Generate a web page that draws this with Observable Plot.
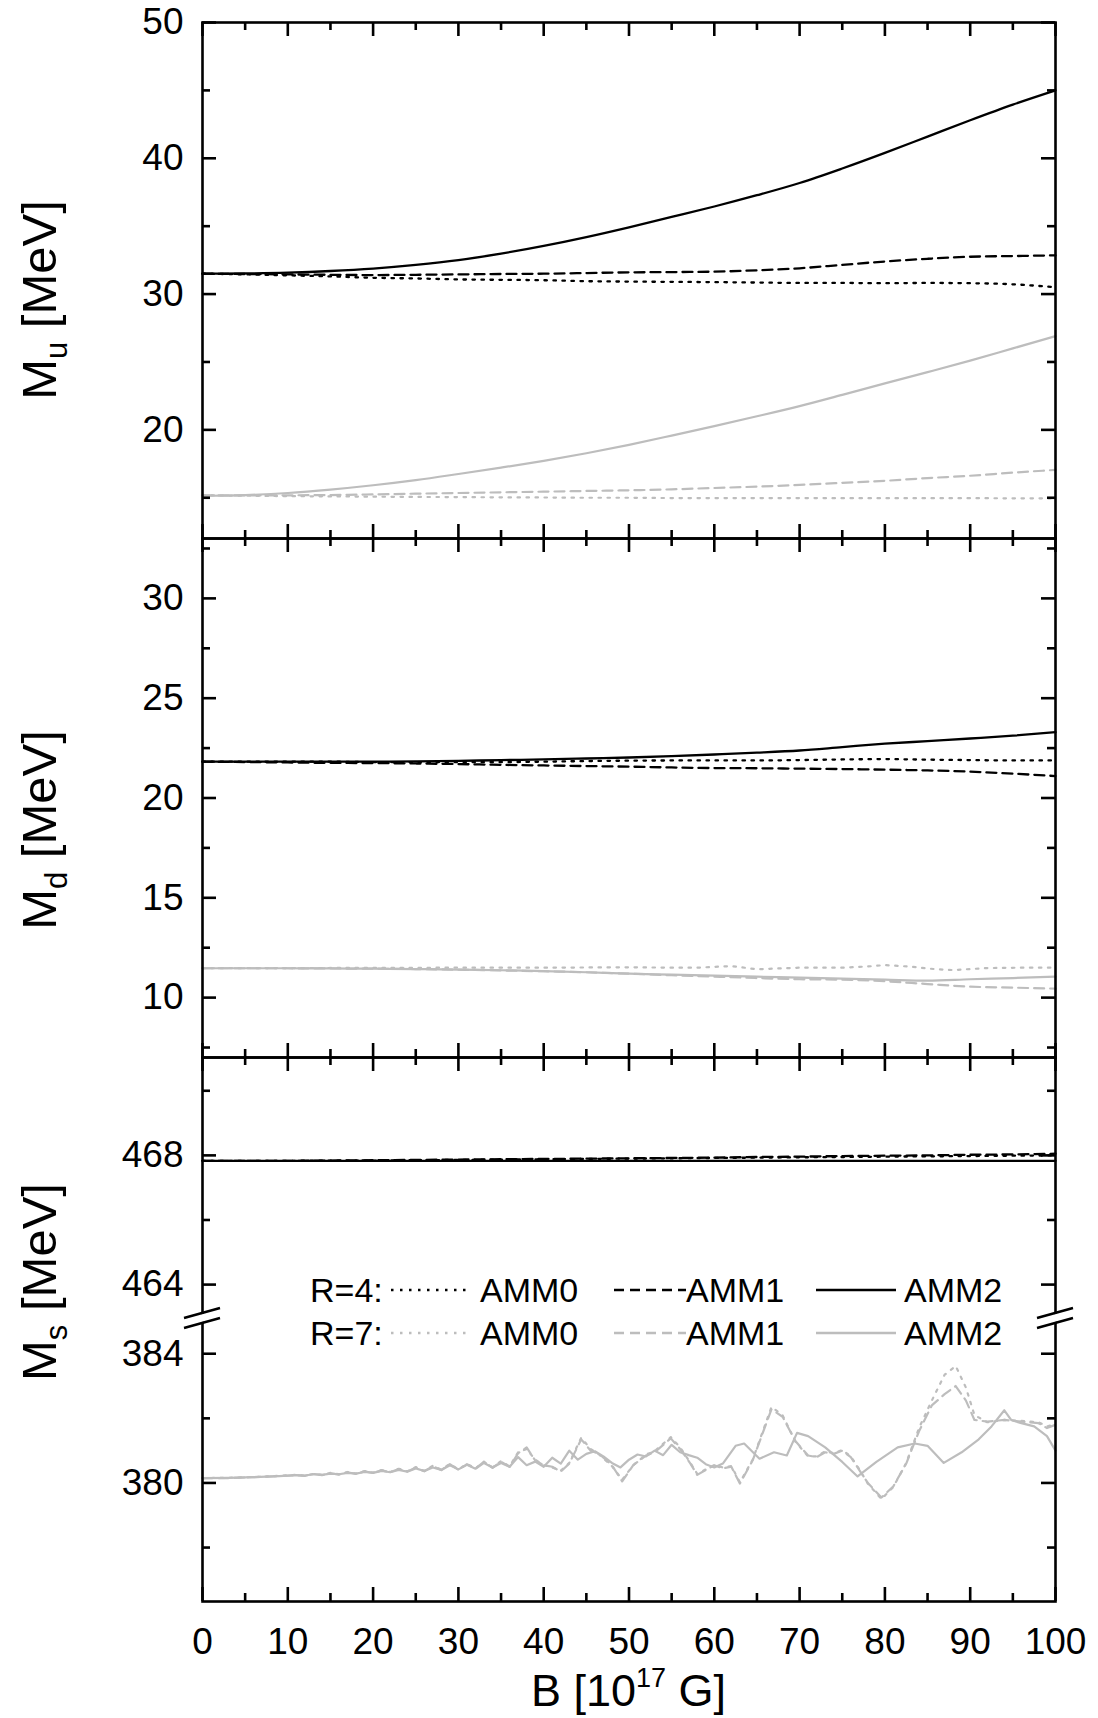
<!DOCTYPE html>
<html><head><meta charset="utf-8">
<script src="https://cdn.jsdelivr.net/npm/d3@7"></script>
<script src="https://cdn.jsdelivr.net/npm/@observablehq/plot@0.6"></script>
<style>
body{margin:0;background:#fff;}
#chart{position:relative;width:1098px;height:1718px;overflow:hidden;}
#chart svg{position:absolute;left:0;}
</style></head><body><div id="chart"></div>
<script>
// ---------- DATA ----------
const B5 = [0,5,10,15,20,25,30,35,40,45,50,55,60,65,70,75,80,85,90,95,100];

// M_u panel
const muR4AMM0 = [31.5,31.45,31.38,31.3,31.2,31.15,31.08,31.05,31.02,30.95,30.92,30.9,30.88,30.85,30.82,30.82,30.8,30.82,30.8,30.72,30.5];
const muR4AMM1 = [31.5,31.48,31.45,31.42,31.4,31.42,31.45,31.48,31.5,31.55,31.6,31.62,31.65,31.75,31.9,32.15,32.4,32.6,32.75,32.8,32.85];
const muR4AMM2 = [31.5,31.52,31.58,31.7,31.88,32.15,32.5,32.98,33.55,34.2,34.92,35.68,36.45,37.28,38.18,39.25,40.4,41.6,42.8,43.95,45.0];
const muR7AMM0 = [15.18,15.15,15.12,15.1,15.08,15.06,15.05,15.03,15.02,15.0,15.0,14.98,14.98,14.98,14.98,14.97,14.97,14.97,14.97,14.96,14.96];
const muR7AMM1 = [15.18,15.17,15.18,15.2,15.25,15.3,15.35,15.4,15.45,15.5,15.55,15.62,15.72,15.82,15.95,16.1,16.25,16.45,16.62,16.85,17.05];
const muR7AMM2 = [15.15,15.2,15.35,15.6,15.92,16.3,16.75,17.22,17.72,18.28,18.9,19.58,20.28,21.0,21.75,22.58,23.42,24.25,25.1,26.0,26.9];

// M_d panel
const mdR4AMM0 = [21.82,21.82,21.82,21.82,21.8,21.8,21.8,21.8,21.82,21.85,21.87,21.88,21.88,21.88,21.9,21.93,21.95,21.92,21.9,21.88,21.88];
const mdR4AMM1 = [21.82,21.8,21.78,21.76,21.75,21.73,21.7,21.66,21.63,21.6,21.57,21.53,21.5,21.49,21.47,21.45,21.42,21.38,21.32,21.22,21.1];
const mdR4AMM2 = [21.82,21.82,21.82,21.82,21.82,21.83,21.86,21.9,21.93,21.98,22.03,22.1,22.18,22.27,22.38,22.55,22.72,22.85,22.98,23.12,23.3];
const Bd7AMM0 = [0,10,20,30,40,50,55,58,62,65,70,75,78,80,83,86,88,92,96,100];
const mdR7AMM0 = [11.47,11.48,11.49,11.5,11.5,11.52,11.5,11.5,11.58,11.42,11.5,11.5,11.56,11.63,11.55,11.42,11.38,11.48,11.5,11.5];
const mdR7AMM1 = [11.47,11.47,11.47,11.46,11.45,11.43,11.4,11.36,11.32,11.27,11.2,11.12,11.05,10.98,10.92,10.9,10.82,10.68,10.55,10.5,10.45];
const mdR7AMM2 = [11.47,11.47,11.47,11.46,11.45,11.43,11.4,11.37,11.33,11.27,11.2,11.15,11.1,11.05,11.0,10.95,10.9,10.85,10.92,10.98,11.05];

// M_s panel, R=4
const msR4AMM0 = [467.83,467.83,467.83,467.84,467.84,467.85,467.86,467.87,467.88,467.89,467.9,467.91,467.92,467.93,467.94,467.95,467.96,467.97,467.98,467.99,468.0];
const msR4AMM1 = [467.83,467.83,467.83,467.84,467.85,467.86,467.87,467.88,467.89,467.9,467.91,467.92,467.93,467.95,467.96,467.98,467.99,468.0,468.02,468.03,468.05];
const msR4AMM2 = [467.83,467.83,467.83,467.83,467.83,467.83,467.83,467.83,467.83,467.83,467.83,467.83,467.83,467.83,467.83,467.83,467.83,467.83,467.83,467.83,467.83];

// M_s panel, R=7
const Bs7AMM2 = [0,3,6,9,11,12,13,14,15,16,17,18,19,20,21,22,23,24,25,26,27,28,29,30,31,32,33,34,35,36,37,38,39,40,41,42,43,44,45,46,47,48,49,50,51,52,53,54,55,56,57,58,59,60,61,62.5,63.5,65.3,67,68.5,69.7,71,73,75,76.8,79,81.5,83.5,85,86.9,89,91,92.5,94,94.8,96,97.5,99,100];
const msR7AMM2 = [380.15,380.16,380.18,380.21,
  380.24,380.23,380.27,380.25,380.29,380.27,380.31,380.29,380.34,380.31,
  380.37,380.33,380.40,380.35,380.45,380.37,380.48,380.40,380.55,380.42,
  380.56,380.44,380.62,380.48,380.62,380.50,380.80,380.55,380.66,380.50,
  380.78,380.60,381.00,380.72,380.90,380.98,380.82,380.62,380.48,380.72,
  380.88,380.82,381.00,380.86,381.18,380.95,380.86,380.78,380.58,380.48,
  380.60,
  381.15,381.22,380.75,380.95,380.85,381.55,381.45,381.10,380.65,380.20,
  380.65,381.10,381.22,381.15,380.62,380.95,381.35,381.75,382.25,381.95,
  381.85,381.75,381.45,381.00];
const Bs7AMM01 = [0,3,6,9,11,12,13,14,15,16,17,18,19,20,21,22,23,24,25,26,27,28,29,30,31,32,33,34,35,36,37,
  38,39,40,41,42,43,44.4,45.5,46.5,48,49.2,50.5,52,53,54.9,56,57.2,58,59,60,61,62,63,64.5,66.7,68,69.5,71,72,73,
  74,75,76,77,78,79.6,81,82.5,84,85.5,87,88.3,89.5,90.5,92,94,96,98,99,100];
const msR7AMM1 = [380.15,380.15,380.18,380.21,
  380.24,380.22,380.28,380.24,380.30,380.26,380.33,380.28,380.36,380.31,
  380.39,380.33,380.43,380.35,380.48,380.36,380.52,380.40,380.58,380.41,
  380.58,380.44,380.66,380.47,380.66,380.50,380.92,
  381.10,380.70,380.55,380.50,380.35,380.60,381.35,381.00,380.90,380.55,380.05,380.55,
  380.85,380.95,381.38,381.05,380.60,380.25,380.40,380.55,380.45,380.50,379.98,380.70,
  382.28,382.05,381.30,380.85,380.80,380.95,380.90,381.00,380.80,380.40,380.00,379.55,
  379.90,380.60,381.60,382.40,382.75,383.00,382.55,381.95,381.90,381.95,381.90,381.85,381.70,381.80];
const msR7AMM0 = [380.15,380.16,380.18,380.22,
  380.25,380.22,380.28,380.25,380.31,380.27,380.34,380.29,380.37,380.32,
  380.40,380.34,380.44,380.36,380.49,380.37,380.53,380.41,380.59,380.42,
  380.59,380.45,380.65,380.48,380.68,380.51,380.95,
  381.05,380.72,380.55,380.48,380.38,380.62,381.40,381.05,380.88,380.52,380.10,380.55,
  380.88,380.98,381.42,381.10,380.62,380.28,380.42,380.55,380.48,380.52,380.02,380.72,
  382.35,382.10,381.28,380.82,380.82,380.98,380.92,381.02,380.82,380.42,379.98,379.50,
  379.88,380.62,381.70,382.55,383.35,383.62,382.95,382.10,381.88,381.95,381.92,381.88,381.75,381.82];

// Axis ticks and labels
const xMajor = [0,10,20,30,40,50,60,70,80,90,100];
const xMinor = [5,15,25,35,45,55,65,75,85,95];
const uMajor = [20,30,40,50], uMinor = [15,25,35,45];
const dMajor = [10,15,20,25,30], dMinor = [7.5,12.5,17.5,22.5,27.5,32.5];
const sMajor = [380,384,464,468], sMinor = [378,382,466,470];
const uDomain = [12, 50];
const dDomain = [7, 33];
const sLower = [376.33, 385.09], sUpper = [462.95, 471.03];
const seriesNames = ["AMM0","AMM1","AMM2"];
const radiusLabels = ["R=4:","R=7:"];

// ---------- STYLE ----------
const W = 1098, ML = 202, MR = 43;
const BLACK = "#000", GRAY = "#bdbdbd";
const DOT = "2.5,6.5", DASH = "10,6";
const FW = 2.6, MAJ = 14, MIN = 8;
const FONT = "'Liberation Sans', Arial, Helvetica, sans-serif";
const chart = document.getElementById("chart");

function yLabel(sub, cy) {
  return () => {
    const g = d3.create("svg:g");
    const t = g.append("text")
      .attr("transform", `translate(56,${cy}) rotate(-90)`)
      .attr("text-anchor", "middle").attr("font-size", 49).attr("fill", "black")
      .attr("font-family", FONT);
    t.append("tspan").text("M");
    t.append("tspan").attr("font-size", 31).attr("dy", 11).text(sub);
    t.append("tspan").attr("dy", -11).text(" [MeV]");
    return g.node();
  };
}

function panel({top, height, mt, mb, y, yMaj, yMin, lines, extra = []}) {
  const innerW = W - ML - MR, innerH = height - mt - mb;
  const S = {stroke: BLACK, strokeWidth: FW};
  const marks = [
    ...lines,
    Plot.frame({stroke: BLACK, strokeWidth: FW}),
    Plot.tickX(xMajor, {x: d => d, insetTop: innerH - MAJ, ...S}),
    Plot.tickX(xMinor, {x: d => d, insetTop: innerH - MIN, ...S}),
    Plot.tickX(xMajor, {x: d => d, insetBottom: innerH - MAJ, ...S}),
    Plot.tickX(xMinor, {x: d => d, insetBottom: innerH - MIN, ...S}),
    Plot.tickY(yMaj, {y: d => d, insetRight: innerW - MAJ, ...S}),
    Plot.tickY(yMin, {y: d => d, insetRight: innerW - MIN, ...S}),
    Plot.tickY(yMaj, {y: d => d, insetLeft: innerW - MAJ, ...S}),
    Plot.tickY(yMin, {y: d => d, insetLeft: innerW - MIN, ...S}),
    Plot.axisY(yMaj, {tickSize: 0, tickPadding: 19, label: null, fontSize: 37}),
    ...extra
  ];
  const svg = Plot.plot({
    width: W, height, marginLeft: ML, marginRight: MR, marginTop: mt, marginBottom: mb,
    x: {domain: [0, 100], axis: null},
    y: {...y, axis: null},
    style: {fontFamily: FONT, fontSize: "37px", background: "transparent", overflow: "visible", color: "black"},
    marks
  });
  svg.style.top = top + "px";
  chart.appendChild(svg);
}

const smooth = "monotone-x";
function ln(ys, xs, color, dash, curve) {
  return Plot.line(ys, {x: xs, y: ys, stroke: color, strokeWidth: color === BLACK ? 2.3 : 2.2, strokeDasharray: dash, curve});
}

// Panel 1: M_u
panel({
  top: 0, height: 560, mt: 22, mb: 22,
  y: {domain: uDomain},
  yMaj: uMajor, yMin: uMinor,
  lines: [
    ln(muR7AMM0, B5, GRAY, DOT, smooth), ln(muR7AMM1, B5, GRAY, DASH, smooth), ln(muR7AMM2, B5, GRAY, undefined, smooth),
    ln(muR4AMM0, B5, BLACK, DOT, smooth), ln(muR4AMM1, B5, BLACK, DASH, smooth), ln(muR4AMM2, B5, BLACK, undefined, smooth)
  ],
  extra: [yLabel("u", 300)]
});

// Panel 2: M_d
panel({
  top: 516, height: 563, mt: 22, mb: 22,
  y: {domain: dDomain},
  yMaj: dMajor, yMin: dMinor,
  lines: [
    ln(mdR7AMM0, Bd7AMM0, GRAY, DOT, "linear"), ln(mdR7AMM1, B5, GRAY, DASH, smooth), ln(mdR7AMM2, B5, GRAY, undefined, smooth),
    ln(mdR4AMM0, B5, BLACK, DOT, smooth), ln(mdR4AMM1, B5, BLACK, DASH, smooth), ln(mdR4AMM2, B5, BLACK, undefined, smooth)
  ],
  extra: [yLabel("d", 830 - 516)]
});

// Panel 3: M_s with broken axis
const H3 = 683, MT3 = 22, MB3 = 117, TOP3 = 1035;
const bottomPx = H3 - MB3, topPx = MT3;
const lowSpan = sLower[1] - sLower[0], upSpan = sUpper[1] - sUpper[0];
const breakPx = bottomPx - lowSpan / (lowSpan + upSpan) * (bottomPx - topPx);

function breakMarks(index, scales) {
  const g = d3.create("svg:g");
  const yb = scales.y(sLower[1]);
  for (const xv of [0, 100]) {
    const xc = scales.x(xv);
    g.append("path")
      .attr("d", `M${xc-18},${yb+9}L${xc+18},${yb-1}L${xc+18},${yb-9}L${xc-18},${yb+1}Z`)
      .attr("fill", "white");
    g.append("path").attr("d", `M${xc-18},${yb+10}L${xc+18},${yb}`).attr("stroke", BLACK).attr("stroke-width", 2.5);
    g.append("path").attr("d", `M${xc-18},${yb}L${xc+18},${yb-10}`).attr("stroke", BLACK).attr("stroke-width", 2.5);
  }
  return g.node();
}

function legend() {
  const g = d3.create("svg:g").attr("font-family", FONT).attr("font-size", 34)
    .attr("fill", "black").attr("text-anchor", "start");
  const rows = [1290 - TOP3, 1333 - TOP3];
  const colors = [BLACK, GRAY];
  const dashes = [DOT, DASH, null];
  const sx = [[391, 472], [614, 686], [816, 896]];
  const tx = [480, 686, 904];
  rows.forEach((ry, r) => {
    g.append("text").attr("x", 310).attr("y", ry).attr("dy", "0.36em").text(radiusLabels[r]);
    seriesNames.forEach((name, i) => {
      const l = g.append("line").attr("x1", sx[i][0]).attr("x2", sx[i][1]).attr("y1", ry).attr("y2", ry)
        .attr("stroke", colors[r]).attr("stroke-width", 2.3);
      if (dashes[i]) l.attr("stroke-dasharray", dashes[i]);
      g.append("text").attr("x", tx[i]).attr("y", ry).attr("dy", "0.36em").text(name);
    });
  });
  return g.node();
}

function xTitle(index, scales) {
  const g = d3.create("svg:g");
  const cx = (scales.x(0) + scales.x(100)) / 2;
  const t = g.append("text").attr("x", cx).attr("y", 671).attr("text-anchor", "middle")
    .attr("font-size", 45).attr("font-family", FONT).attr("fill", "black");
  t.append("tspan").text("B [10");
  t.append("tspan").attr("font-size", 27).attr("dy", -19).text("17");
  t.append("tspan").attr("dy", 19).text(" G]");
  return g.node();
}

panel({
  top: TOP3, height: H3, mt: MT3, mb: MB3,
  y: {type: "linear", domain: [sLower[0], sLower[1], sUpper[0], sUpper[1]], range: [bottomPx, breakPx, breakPx, topPx]},
  yMaj: sMajor, yMin: sMinor,
  lines: [
    ln(msR7AMM0, Bs7AMM01, GRAY, DOT, "linear"),
    ln(msR7AMM1, Bs7AMM01, GRAY, DASH, "linear"),
    ln(msR7AMM2, Bs7AMM2, GRAY, undefined, "linear"),
    ln(msR4AMM0, B5, BLACK, DOT, "linear"),
    ln(msR4AMM1, B5, BLACK, DASH, "linear"),
    ln(msR4AMM2, B5, BLACK, undefined, "linear")
  ],
  extra: [
    Plot.axisX(xMajor, {tickSize: 0, tickPadding: 26, label: null, fontSize: 37}),
    breakMarks, legend, xTitle, yLabel("s", 1282 - TOP3)
  ]
});
</script></body></html>
